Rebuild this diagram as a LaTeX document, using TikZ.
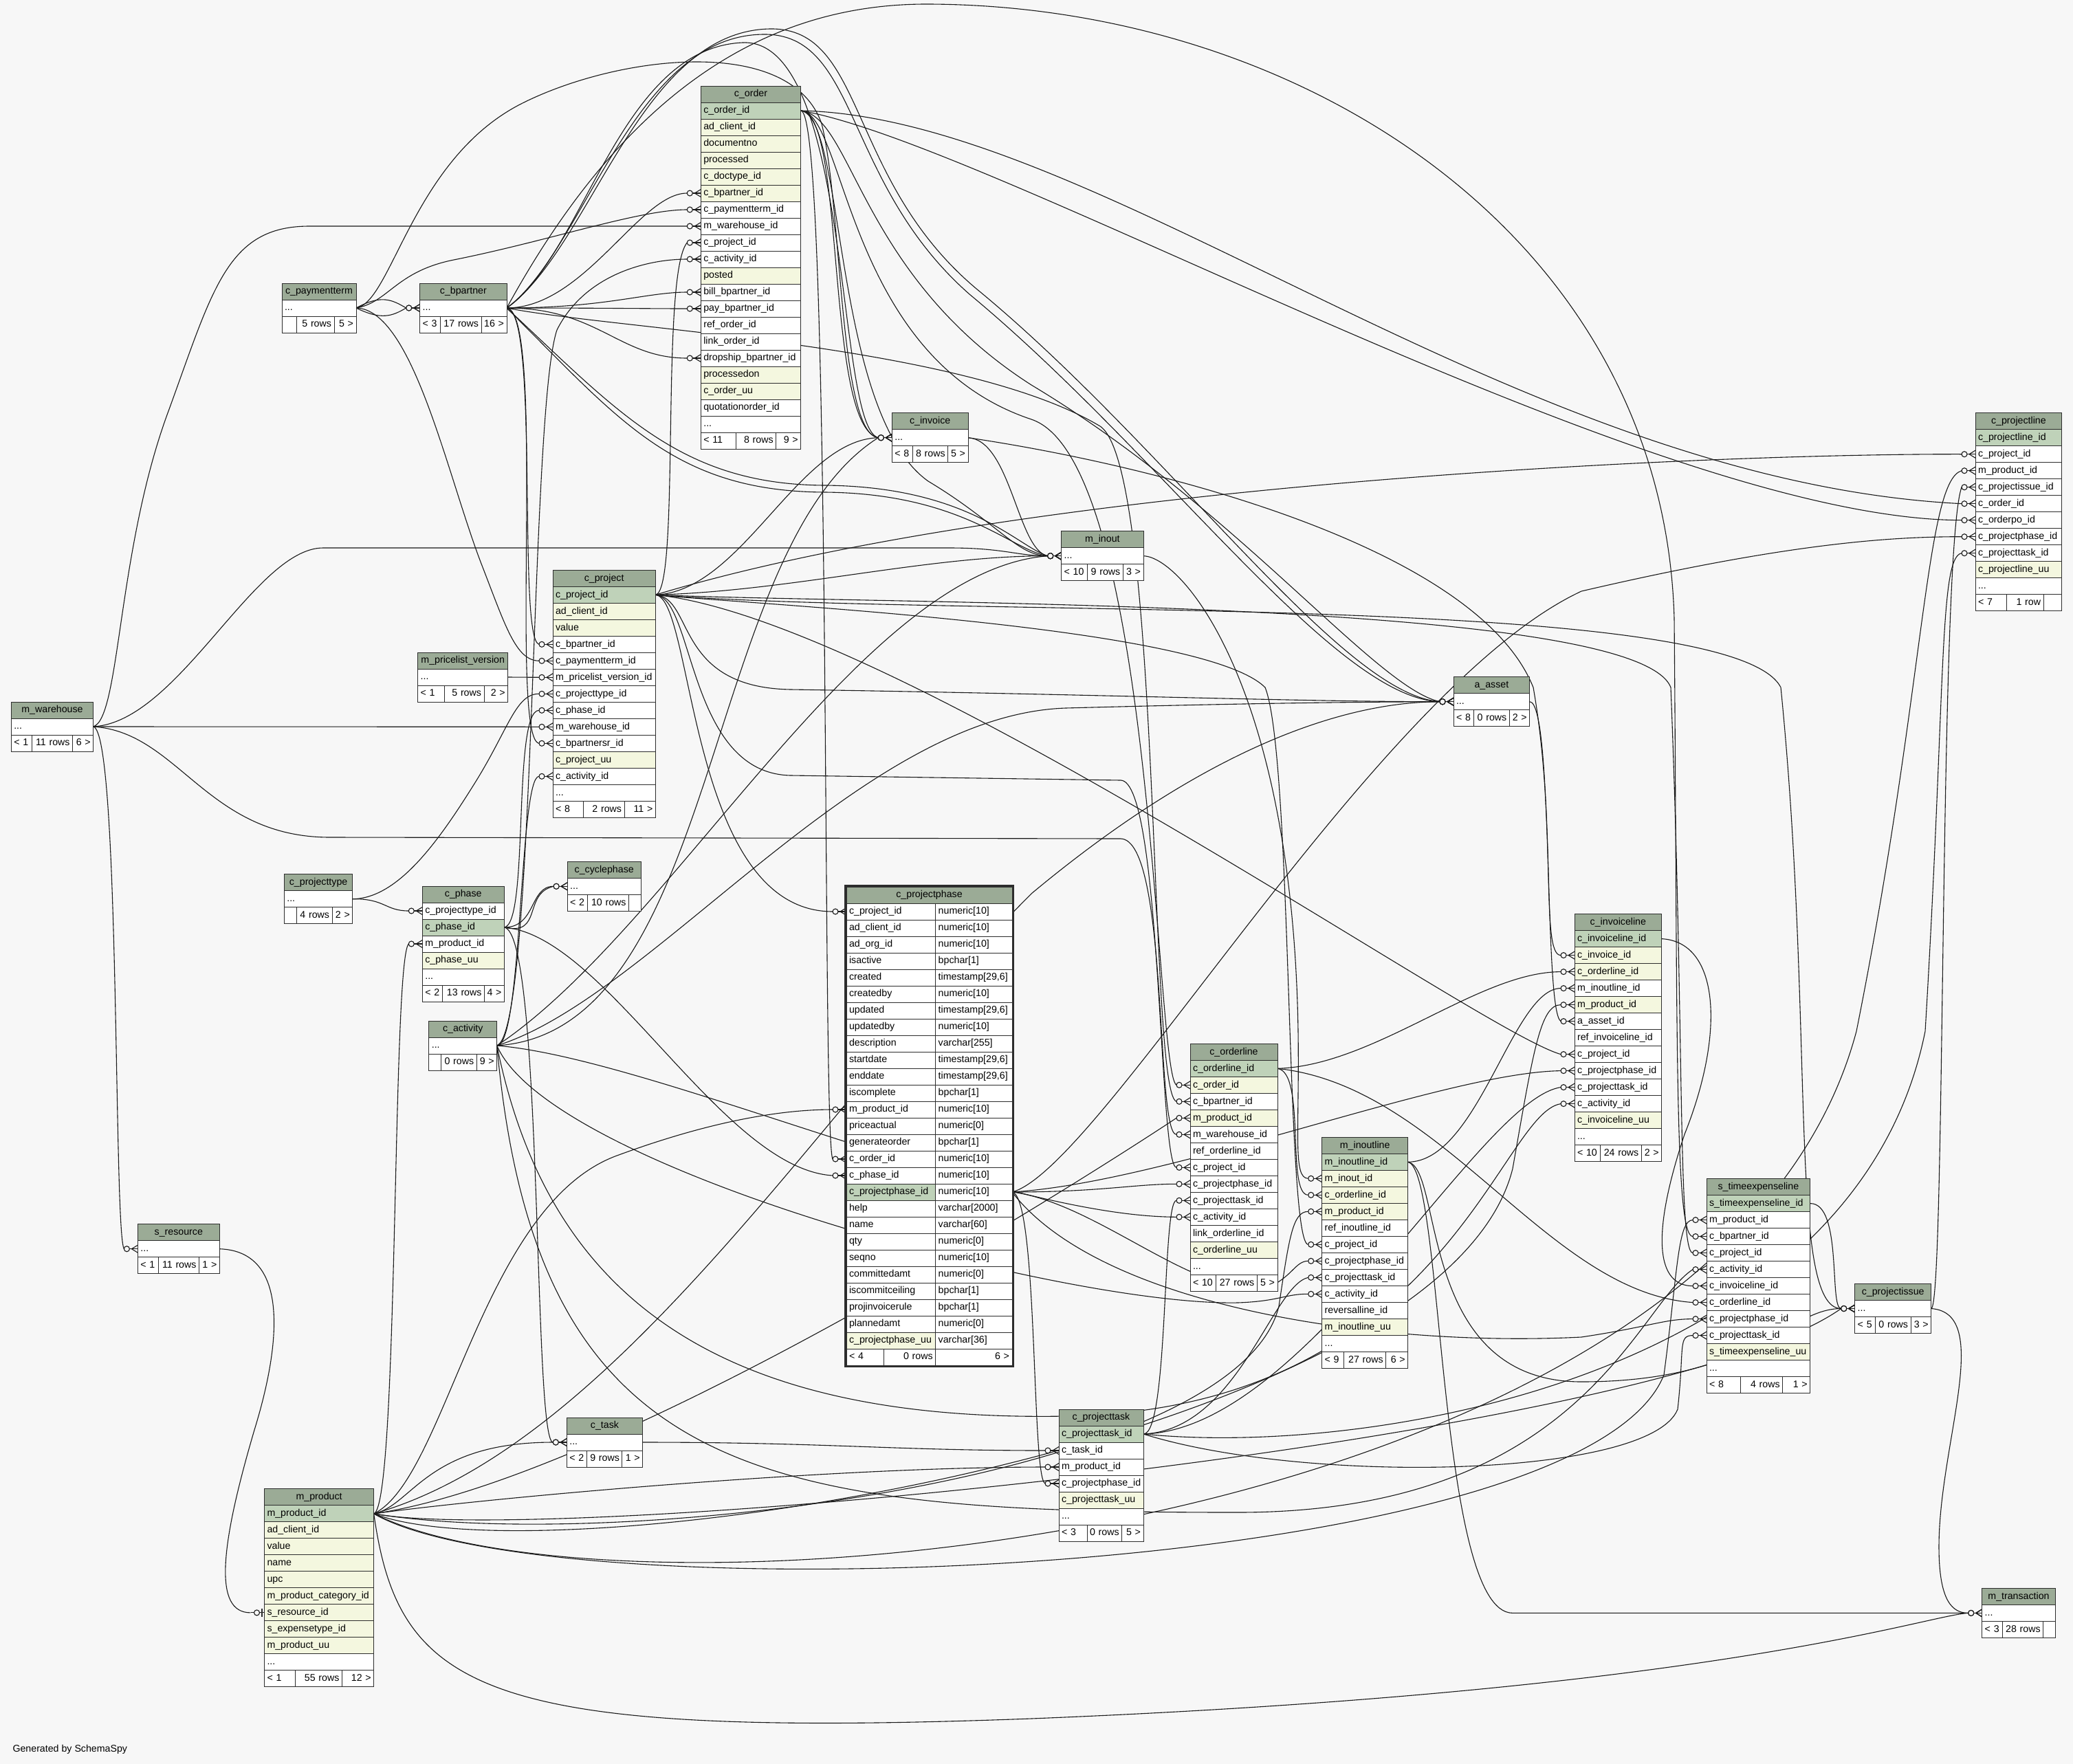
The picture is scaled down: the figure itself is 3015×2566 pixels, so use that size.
\documentclass[tikz,border=0pt]{standalone}
\usepackage{fontspec}
\setmainfont{Liberation Sans}
\usetikzlibrary{calc}
\definecolor{bgc}{RGB}{247,247,247}
\definecolor{hdrc}{RGB}{155,171,150}
\definecolor{pkc}{RGB}{191,210,185}
\definecolor{idxc}{RGB}{244,247,223}
\definecolor{bordc}{RGB}{45,45,45}
\pgfdeclarelayer{bg}\pgfdeclarelayer{edges}\pgfsetlayers{bg,edges,main}
\hyphenpenalty=10000 \exhyphenpenalty=10000
\newcommand\ddd{.\kern0pt.\kern0pt.}
\tikzset{
 tcell/.style={draw=bordc, line width=0.9pt, minimum height=24pt, inner ysep=0pt, inner xsep=4pt, outer sep=0pt, text height=10.5pt, text depth=3pt, font=\fontsize{14.2}{16}\selectfont, anchor=north west},
 edge/.style={line width=1.1pt, black!90},
}
\newcommand\ertable[5]{%
 \gdef\tid{#1}\xdef\tx{#2}\xdef\ty{#3}\xdef\tw{#4}%
 \pgfmathsetmacro\tmp{#4-8}\xdef\tww{\tmp}%
 \node[tcell,fill=hdrc,text width=\tww pt,align=center] (#1) at (#2,#3) {#5};}
\newcommand\errows[1]{%
 \foreach \rfill/\rtext [count=\i] in {#1} {%
   \node[tcell,fill=\rfill,text width=\tww pt,align=left] (\tid-\i) at (\tx,{\ty+24*\i}) {\rtext};
   \xdef\nrows{\i}}}
\newcommand\erfoot[5]{%
 \pgfmathsetmacro\fy{\ty+24*(\nrows+1)}%
 \pgfmathsetmacro\wa{#1-\tx-8}\pgfmathsetmacro\wb{#2-#1-8}\pgfmathsetmacro\wc{\tx+\tw-#2-8}%
 \node[tcell,fill=white,text width=\wa pt,align=left] (\tid-fa) at (\tx,\fy) {\mbox{#3}};
 \node[tcell,fill=white,text width=\wb pt,align=right] (\tid-fb) at (#1,\fy) {\mbox{#4}};
 \node[tcell,fill=white,text width=\wc pt,align=right] (\tid-fc) at (#2,\fy) {\mbox{#5}};}
\newcommand\crow[1]{%
 \draw[edge] ([xshift=-20pt]#1.west) -- (#1.west);
 \draw[edge] ([xshift=-9pt]#1.west) -- ([yshift=5.5pt]#1.west) ([xshift=-9pt]#1.west) -- ([yshift=-5.5pt]#1.west);
 \draw[edge,fill=bgc] ([xshift=-16pt]#1.west) circle (4pt);}
\newcommand\fk[3]{\draw[edge] (#1) #2 ([xshift=-20pt]#3.west); \crow{#3}}
\newcommand\fkt[3]{\draw[edge] (#1) #2 ([xshift=-20pt]#3.west);
 \draw[edge] ([xshift=-20pt]#3.west) -- (#3.west);
 \draw[line width=2.5pt,bordc] ([xshift=-3.5pt,yshift=-6pt]#3.west) -- ([xshift=-3.5pt,yshift=6pt]#3.west);
 \draw[edge,fill=bgc] ([xshift=-11pt]#3.west) circle (4pt);}
\begin{document}
\begin{tikzpicture}[x=1pt,y=-1pt]
\useasboundingbox (0,0) rectangle (3015,2566);
\begin{pgfonlayer}{bg}\fill[bgc] (0,0) rectangle (3015,2566);\end{pgfonlayer}

\ertable{co}{1019.3}{125}{145.4}{c\_order}
\errows{pkc/c\_order\_id,idxc/ad\_client\_id,idxc/documentno,idxc/processed,idxc/c\_doctype\_id,idxc/c\_bpartner\_id,white/c\_paymentterm\_id,white/m\_warehouse\_id,white/c\_project\_id,white/c\_activity\_id,idxc/posted,white/bill\_bpartner\_id,white/pay\_bpartner\_id,white/ref\_order\_id,white/link\_order\_id,white/dropship\_bpartner\_id,idxc/processedon,idxc/c\_order\_uu,white/quotationorder\_id,white/\ddd}
\erfoot{1070}{1128.7}{< 11}{8 rows}{9 >}

\ertable{pt}{410}{412}{108}{c\_paymentterm}
\errows{white/\ddd}
\erfoot{431.6}{486}{}{5 rows}{5 >}

\ertable{bp}{610.7}{412}{126.3}{c\_bpartner}
\errows{white/\ddd}
\erfoot{640.3}{700}{< 3}{17 rows}{16 >}

\ertable{wh}{16.3}{1021}{119.4}{m\_warehouse}
\errows{white/\ddd}
\erfoot{46}{105.6}{< 1}{11 rows}{6 >}

\ertable{plv}{607.7}{949}{131}{m\_pricelist\_version}
\errows{white/\ddd}
\erfoot{646.7}{704}{< 1}{5 rows}{2 >}

\ertable{pj}{804}{829.3}{149.3}{c\_project}
\errows{pkc/c\_project\_id,idxc/ad\_client\_id,idxc/value,white/c\_bpartner\_id,white/c\_paymentterm\_id,white/m\_pricelist\_version\_id,white/c\_projecttype\_id,white/c\_phase\_id,white/m\_warehouse\_id,white/c\_bpartnersr\_id,idxc/c\_project\_uu,white/c\_activity\_id,white/\ddd}
\erfoot{848}{908}{< 8}{2 rows}{11 >}

\ertable{inv}{1297.3}{600.7}{110.7}{c\_invoice}
\errows{white/\ddd}
\erfoot{1327}{1378.7}{< 8}{8 rows}{5 >}

\ertable{io}{1543.7}{772.7}{119.3}{m\_inout}
\errows{white/\ddd}
\erfoot{1581.3}{1633.3}{< 10}{9 rows}{3 >}

\ertable{as}{2114}{984.7}{110.7}{a\_asset}
\errows{white/\ddd}
\erfoot{2143.3}{2195.3}{< 8}{0 rows}{2 >}

\ertable{pl}{2873}{600.7}{125.7}{c\_projectline}
\errows{pkc/c\_projectline\_id,white/c\_project\_id,white/m\_product\_id,white/c\_projectissue\_id,white/c\_order\_id,white/c\_orderpo\_id,white/c\_projectphase\_id,white/c\_projecttask\_id,idxc/c\_projectline\_uu,white/\ddd}
\erfoot{2918.7}{2972}{< 7}{1 row}{}

\ertable{ptype}{413.3}{1271.7}{99.6}{c\_projecttype}
\errows{white/\ddd}
\erfoot{431.2}{483.1}{}{4 rows}{2 >}

\ertable{ph}{614.3}{1289}{118.9}{c\_phase}
\errows{white/c\_projecttype\_id,pkc/c\_phase\_id,white/m\_product\_id,idxc/c\_phase\_uu,white/\ddd}
\erfoot{643.8}{704.5}{< 2}{13 rows}{4 >}

\ertable{cyc}{825.1}{1253.3}{107.3}{c\_cyclephase}
\errows{white/\ddd}
\erfoot{854.6}{914.6}{< 2}{10 rows}{}

\ertable{act}{623.8}{1485}{98.9}{c\_activity}
\errows{white/\ddd}
\erfoot{641.3}{693.2}{}{0 rows}{9 >}

\ertable{ol}{1731}{1518.3}{127}{c\_orderline}
\errows{pkc/c\_orderline\_id,idxc/c\_order\_id,white/c\_bpartner\_id,idxc/m\_product\_id,white/m\_warehouse\_id,white/ref\_orderline\_id,white/c\_project\_id,white/c\_projectphase\_id,white/c\_projecttask\_id,white/c\_activity\_id,white/link\_orderline\_id,idxc/c\_orderline\_uu,white/\ddd}
\erfoot{1768.7}{1828.3}{< 10}{27 rows}{5 >}

\ertable{iol}{1922.7}{1654.3}{125}{m\_inoutline}
\errows{pkc/m\_inoutline\_id,idxc/m\_inout\_id,idxc/c\_orderline\_id,idxc/m\_product\_id,white/ref\_inoutline\_id,white/c\_project\_id,white/c\_projectphase\_id,white/c\_projecttask\_id,white/c\_activity\_id,white/reversalline\_id,idxc/m\_inoutline\_uu,white/\ddd}
\erfoot{1954.3}{2015.7}{< 9}{27 rows}{6 >}

\ertable{il}{2290}{1329.6}{126.7}{c\_invoiceline}
\errows{pkc/c\_invoiceline\_id,idxc/c\_invoice\_id,idxc/c\_orderline\_id,white/m\_inoutline\_id,idxc/m\_product\_id,white/a\_asset\_id,white/ref\_invoiceline\_id,white/c\_project\_id,white/c\_projectphase\_id,white/c\_projecttask\_id,white/c\_activity\_id,idxc/c\_invoiceline\_uu,white/\ddd}
\erfoot{2327.3}{2387.3}{< 10}{24 rows}{2 >}

\ertable{tel}{2482}{1714.6}{150.7}{s\_timeexpenseline}
\errows{pkc/s\_timeexpenseline\_id,white/m\_product\_id,white/c\_bpartner\_id,white/c\_project\_id,white/c\_activity\_id,white/c\_invoiceline\_id,white/c\_orderline\_id,white/c\_projectphase\_id,white/c\_projecttask\_id,idxc/s\_timeexpenseline\_uu,white/\ddd}
\erfoot{2531}{2592.7}{< 8}{4 rows}{1 >}

\ertable{pi}{2697.7}{1867.5}{111}{c\_projectissue}
\errows{white/\ddd}
\erfoot{2727.3}{2779}{< 5}{0 rows}{3 >}

\ertable{mt}{2882.7}{2310.4}{106.6}{m\_transaction}
\errows{white/\ddd}
\erfoot{2912.3}{2971.7}{< 3}{28 rows}{}

\ertable{res}{200.4}{1780.7}{118.9}{s\_resource}
\errows{white/\ddd}
\erfoot{230.2}{289.5}{< 1}{11 rows}{1 >}

\ertable{prod}{384.5}{2165.9}{159.2}{m\_product}
\errows{pkc/m\_product\_id,idxc/ad\_client\_id,idxc/value,idxc/name,idxc/upc,idxc/m\_product\_category\_id,idxc/s\_resource\_id,idxc/s\_expensetype\_id,idxc/m\_product\_uu,white/\ddd}
\erfoot{429.8}{497.4}{< 1}{55 rows}{12 >}

\ertable{task}{824.3}{2062}{110.4}{c\_task}
\errows{white/\ddd}
\erfoot{853.1}{904.9}{< 2}{9 rows}{1 >}

\ertable{ptask}{1540}{2050}{123}{c\_projecttask}
\errows{pkc/c\_projecttask\_id,white/c\_task\_id,white/m\_product\_id,white/c\_projectphase\_id,idxc/c\_projecttask\_uu,white/\ddd}
\erfoot{1581}{1631}{< 3}{0 rows}{5 >}

% c_projectphase (focus table, two columns)
\node[tcell,fill=hdrc,text width=233pt,align=center] (pp) at (1231,1290) {c\_projectphase};
\foreach \rfill/\ra/\rb [count=\i] in {white/c\_project\_id/numeric[10],white/ad\_client\_id/numeric[10],white/ad\_org\_id/numeric[10],white/isactive/bpchar[1],white/created/{timestamp[29,6]},white/createdby/numeric[10],white/updated/{timestamp[29,6]},white/updatedby/numeric[10],white/description/varchar[255],white/startdate/{timestamp[29,6]},white/enddate/{timestamp[29,6]},white/iscomplete/bpchar[1],white/m\_product\_id/numeric[10],white/priceactual/numeric[0],white/generateorder/bpchar[1],white/c\_order\_id/numeric[10],white/c\_phase\_id/numeric[10],pkc/c\_projectphase\_id/numeric[10],white/help/varchar[2000],white/name/varchar[60],white/qty/numeric[0],white/seqno/numeric[10],white/committedamt/numeric[0],white/iscommitceiling/bpchar[1],white/projinvoicerule/bpchar[1],white/plannedamt/numeric[0],idxc/c\_projectphase\_uu/varchar[36]} {
 \node[tcell,fill=\rfill,text width=121.7pt,align=left] (pp-\i) at (1231,{1290+24*\i}) {\ra};
 \node[tcell,fill=white,text width=103.3pt,align=left] (pp-\i-t) at (1360.7,{1290+24*\i}) {\rb};
}
\node[tcell,fill=white,text width=46pt,align=left] (pp-fa) at (1231,1962) {\mbox{< 4}};
\node[tcell,fill=white,text width=67.7pt,align=right] (pp-fb) at (1285,1962) {\mbox{0 rows}};
\node[tcell,fill=white,text width=103.3pt,align=right] (pp-fc) at (1360.7,1962) {\mbox{6 >}};
\draw[bordc,line width=3pt] (1229.8,1288.8) rectangle (1473.2,1987.2);

\node[anchor=west,font=\fontsize{14.2}{16}\selectfont] (gen) at (15,2545) {Generated by SchemaSpy};

\begin{pgfonlayer}{edges}
% c_paymentterm
\fk{pt-1.east}{.. controls (555,428) and (570,436) ..}{bp-1}
\fk{pt-1.east}{.. controls (555,466) and (570,460) ..}{bp-1}
\fk{pt-1.east}{.. controls (565,440) and (575,395) .. (660,378) .. controls (800,350) and (930,305) ..}{co-7}
\fk{pt-1.east}{.. controls (570,440) and (600,230) .. (760,150) .. controls (900,80) and (1150,50) .. (1195,180) .. controls (1225,300) and (1220,630) ..}{inv-1}
\fk{pt-1.east}{.. controls (600,450) and (650,690) .. (700,820) .. controls (735,910) and (750,961) ..}{pj-5}
% m_warehouse
\fk{wh-1.east}{.. controls (175,1045) and (170,800) .. (245,598) .. controls (310,420) and (330,329) .. (450,329) --}{co-8}
\fk{wh-1.east}{.. controls (260,1050) and (370,797) .. (470,797) -- (1380,797) .. controls (1460,797) and (1480,808.7) ..}{io-1}
\fk{wh-1.east}{--}{pj-9}
\fk{wh-1.east}{.. controls (175,1065) and (165,1790) ..}{res-1}
\fk{wh-1.east}{.. controls (260,1065) and (300,1218) .. (480,1218) -- (1630,1220) .. controls (1700,1222) and (1680,1650) ..}{ol-5}
% m_pricelist_version
\fk{plv-1.east}{--}{pj-6}
% c_projecttype
\fk{ptype-1.east}{.. controls (560,1307) and (560,1325) ..}{ph-1}
\fk{ptype-1.east}{.. controls (580,1307) and (640,1220) .. (690,1140) .. controls (740,1060) and (750,1009) ..}{pj-7}
% c_phase
\fk{ph-2.east}{.. controls (780,1349) and (770,1289) ..}{cyc-1}
\fk{ph-2.east}{.. controls (790,1362) and (760,1300) ..}{cyc-1}
\fk{ph-2.east}{.. controls (770,1345) and (745,1033) ..}{pj-8}
\fk{ph-2.east}{.. controls (880,1360) and (1050,1700) ..}{pp-17}
\fk{ph-2.east}{.. controls (790,1355) and (775,2098) ..}{task-1}
% c_activity
\fk{act-1.east}{.. controls (760,1521) and (755,1129) ..}{pj-12}
\fk{act-1.east}{.. controls (780,1500) and (770,600) .. (810,480) .. controls (850,400) and (940,377) ..}{co-10}
\fk{act-1.east}{.. controls (1050,1500) and (1020,800) ..}{inv-1}
\fk{act-1.east}{.. controls (980,1350) and (1250,830) ..}{io-1}
\fk{act-1.east}{.. controls (950,1450) and (1250,1040) .. (1550,1030) .. controls (1850,1022) and (2000,1021) ..}{as-1}
\fk{act-1.east}{.. controls (950,1540) and (1450,1770) ..}{ol-10}
\fk{act-1.east}{.. controls (800,1700) and (1550,1900) .. (1800,1895) .. controls (1860,1893) and (1870,1882) ..}{iol-9}
\fk{act-1.east}{.. controls (790,1850) and (1000,2070) .. (1550,2060) .. controls (2100,2050) and (2180,1620) ..}{il-11}
\fk{act-1.east}{.. controls (780,2150) and (1100,2200) .. (1800,2200) .. controls (2300,2200) and (2380,1900) ..}{tel-5}
% c_project
\fk{pj-1.east}{.. controls (990,860) and (960,400) ..}{co-9}
\fk{pj-1.east}{.. controls (1080,860) and (1160,640) ..}{inv-1}
\fk{pj-1.east}{.. controls (1150,860) and (1350,808) ..}{io-1}
\fk{pj-1.east}{.. controls (1010,870) and (980,1000) .. (1150,1003) .. controls (1600,1010) and (1900,1021) ..}{as-1}
\fk{pj-1.east}{.. controls (1010,870) and (1000,1326) ..}{pp-1}
\fk{pj-1.east}{.. controls (1010,870) and (1000,1125) .. (1150,1128) -- (1630,1135) .. controls (1690,1136) and (1685,1698) ..}{ol-7}
\fk{pj-1.east}{.. controls (1100,880) and (1750,910) .. (1840,1000) .. controls (1880,1100) and (1870,1810) ..}{iol-6}
\fk{pj-1.east}{.. controls (1300,900) and (2150,1500) ..}{il-8}
\fk{pj-1.east}{.. controls (1300,880) and (2380,870) .. (2430,1000) .. controls (2450,1500) and (2440,1822) ..}{tel-4}
\fk{pj-1.east}{.. controls (1500,700) and (2500,660) ..}{pl-2}
\fk{pj-1.east}{.. controls (1400,900) and (2520,860) .. (2590,1000) .. controls (2640,1500) and (2600,1903) ..}{pi-1}
% c_order
\fk{co-1.east}{.. controls (1230,161) and (1200,620) ..}{inv-1}
\fk{co-1.east}{.. controls (1230,170) and (1210,600) .. (1350,700) .. controls (1450,760) and (1480,808.7) ..}{io-1}
\fk{co-1.east}{.. controls (1240,170) and (1250,400) .. (1500,560) .. controls (1800,740) and (2000,1000) ..}{as-1}
\fk{co-1.east}{.. controls (1230,165) and (1230,520) .. (1500,610) .. controls (1680,670) and (1680,1560) ..}{ol-2}
\fk{co-1.east}{.. controls (1210,161) and (1195,1650) ..}{pp-16}
\fk{co-1.east}{.. controls (1600,170) and (2200,700) ..}{pl-5}
\fk{co-1.east}{.. controls (1450,210) and (2400,756) ..}{pl-6}
% c_bpartner
\fk{bp-1.east}{.. controls (850,448) and (930,281) ..}{co-6}
\fk{bp-1.east}{.. controls (880,448) and (940,425) ..}{co-12}
\fk{bp-1.east}{.. controls (880,448) and (940,449) ..}{co-13}
\fk{bp-1.east}{.. controls (870,448) and (900,521) ..}{co-16}
\fk{bp-1.east}{.. controls (785,452) and (752,930) ..}{pj-4}
\fk{bp-1.east}{.. controls (795,455) and (740,1075) ..}{pj-10}
\fk{bp-1.east}{.. controls (850,370) and (900,70) .. (1080,62) .. controls (1240,55) and (1215,620) ..}{inv-1}
\fk{bp-1.east}{.. controls (900,610) and (980,715) .. (1200,716) .. controls (1400,718) and (1470,800) ..}{io-1}
\fk{bp-1.east}{.. controls (900,600) and (990,705) .. (1200,706) .. controls (1410,708) and (1480,795) ..}{io-1}
\fk{bp-1.east}{.. controls (860,360) and (930,45) .. (1120,42) .. controls (1260,40) and (1230,260) .. (1420,420) .. controls (1700,650) and (1950,1010) ..}{as-1}
\fk{bp-1.east}{.. controls (850,365) and (920,52) .. (1110,50) .. controls (1250,48) and (1225,265) .. (1410,428) .. controls (1690,660) and (1940,1015) ..}{as-1}
\fk{bp-1.east}{.. controls (900,480) and (1400,500) .. (1600,620) .. controls (1690,680) and (1670,1590) ..}{ol-3}
\fk{bp-1.east}{.. controls (900,150) and (1100,5) .. (1350,6) .. controls (1900,8) and (2420,350) .. (2435,900) .. controls (2440,1500) and (2435,1798.6) ..}{tel-3}
% c_invoice
\fk{inv-1.east}{.. controls (1470,640) and (1480,800) ..}{io-1}
\fk{inv-1.east}{.. controls (1700,680) and (2150,800) .. (2230,1000) .. controls (2265,1200) and (2240,1389.6) ..}{il-2}
% m_inout
\fk{io-1.east}{.. controls (1720,810) and (1880,1000) .. (1888,1500) .. controls (1890,1650) and (1880,1714) ..}{iol-2}
% a_asset
\fk{as-1.east}{.. controls (2260,1021) and (2245,1470) ..}{il-6}
% c_projectphase
\fk{pp-18-t.east}{.. controls (1600,1734) and (1650,1722.3) ..}{ol-8}
\fk{pp-18-t.east}{.. controls (1600,1750) and (1750,1900) .. (1850,1870) .. controls (1880,1855) and (1885,1834.3) ..}{iol-7}
\fk{pp-18-t.east}{.. controls (1700,1720) and (2100,1560) ..}{il-9}
\fk{pp-18-t.east}{.. controls (1600,1900) and (2000,1960) .. (2300,1945) .. controls (2400,1930) and (2420,1918.6) ..}{tel-8}
\fk{pp-18-t.east}{.. controls (1600,1700) and (2000,1000) .. (2300,860) .. controls (2600,790) and (2750,780.7) ..}{pl-7}
\fk{pp-18-t.east}{.. controls (1510,1740) and (1500,2150) ..}{ptask-4}
% c_projecttask
\fk{ptask-1.east}{.. controls (1700,2086) and (1690,1746.3) ..}{ol-9}
\fk{ptask-1.east}{.. controls (1800,2080) and (1850,1870) ..}{iol-8}
\fk{ptask-1.east}{.. controls (1900,2080) and (2150,1600) ..}{il-10}
\fk{ptask-1.east}{.. controls (1900,2160) and (2400,2150) .. (2440,2050) .. controls (2450,1960) and (2440,1942.6) ..}{tel-9}
\fk{ptask-1.east}{.. controls (2000,2120) and (2700,2000) .. (2800,1500) .. controls (2830,1000) and (2820,810) ..}{pl-8}
% c_orderline
\fk{ol-1.east}{.. controls (1900,1560) and (1870,1738.3) ..}{iol-3}
\fk{ol-1.east}{.. controls (2000,1550) and (2150,1413.6) ..}{il-3}
\fk{ol-1.east}{.. controls (2100,1580) and (2250,1880) ..}{tel-7}
% m_inoutline
\fk{iol-1.east}{.. controls (2150,1690) and (2200,1437.6) ..}{il-4}
\fk{iol-1.east}{.. controls (2100,1700) and (2060,2010) .. (2300,2010) .. controls (2550,2010) and (2600,1903.5) ..}{pi-1}
\fk{iol-1.east}{.. controls (2100,1700) and (2090,2346) .. (2200,2346.4) --}{mt-1}
% c_invoiceline
\fk{il-1.east}{.. controls (2500,1370) and (2510,1500) .. (2450,1650) .. controls (2400,1800) and (2410,1870.6) ..}{tel-6}
% s_timeexpenseline
\fk{tel-1.east}{.. controls (2680,1750) and (2660,1903.5) ..}{pi-1}
% c_projectissue
\fk{pi-1.east}{.. controls (2830,1903) and (2820,800) ..}{pl-4}
\fk{pi-1.east}{.. controls (2900,1910) and (2820,2100) .. (2820,2250) .. controls (2820,2330) and (2840,2346.4) ..}{mt-1}
% s_resource
\fkt{res-1.east}{.. controls (420,1820) and (410,1950) .. (370,2080) .. controls (320,2250) and (310,2346) ..}{prod-7}
% c_task
\fk{task-1.east}{.. controls (1200,2098) and (1300,2110) ..}{ptask-2}
% m_product
\fk{prod-1.east}{.. controls (580,2190) and (570,1400) ..}{ph-3}
\fk{prod-1.east}{.. controls (600,2190) and (620,2098) ..}{task-1}
\fk{prod-1.east}{.. controls (700,2180) and (1200,2134) ..}{ptask-3}
\fk{prod-1.east}{.. controls (650,2150) and (700,1750) .. (900,1680) .. controls (1050,1625) and (1150,1614) ..}{pp-13}
\fk{prod-1.east}{.. controls (900,2150) and (1600,1700) ..}{ol-4}
\fk{prod-1.east}{.. controls (900,2260) and (1800,2150) .. (1860,1900) .. controls (1875,1800) and (1880,1762.3) ..}{iol-4}
\fk{prod-1.east}{.. controls (800,2300) and (2100,2100) .. (2200,1700) .. controls (2230,1530) and (2240,1461.6) ..}{il-5}
\fk{prod-1.east}{.. controls (800,2350) and (2300,2300) .. (2420,2000) .. controls (2440,1850) and (2440,1774.6) ..}{tel-2}
\fk{prod-1.east}{.. controls (900,2380) and (2500,2250) .. (2700,1500) .. controls (2800,1000) and (2800,700) ..}{pl-3}
\fk{prod-1.east}{.. controls (800,2250) and (2400,2100) ..}{pi-1}
\fk{prod-1.east}{.. controls (580,2460) and (700,2530) .. (1500,2500) .. controls (2500,2460) and (2800,2350) ..}{mt-1}
\fk{prod-1.east}{.. controls (900,2100) and (1200,1600) .. (1500,1300) .. controls (1800,1050) and (2000,1021) ..}{as-1}
\end{pgfonlayer}
\end{tikzpicture}
\end{document}
